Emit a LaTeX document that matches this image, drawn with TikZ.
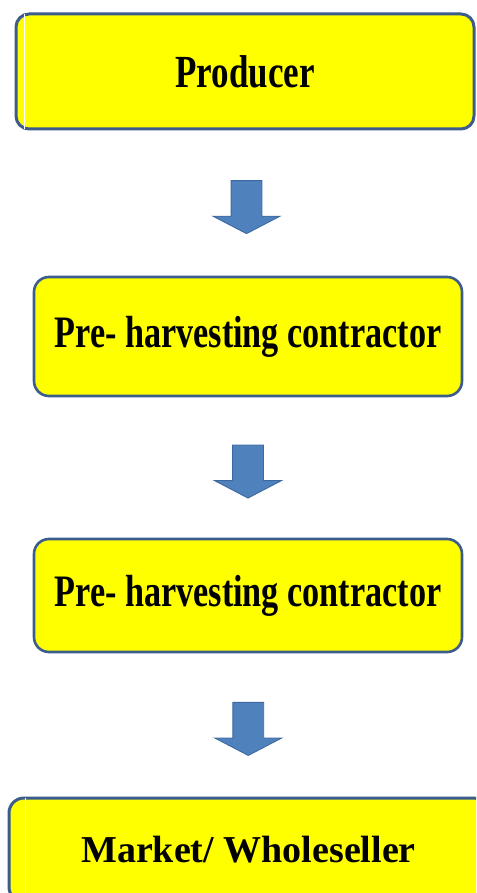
\documentclass[tikz,border=0pt]{standalone}
\usepackage{fontspec}
\setmainfont{Liberation Serif}
\newfontfamily\narrowserif[FakeStretch=0.76]{Liberation Serif}
\usetikzlibrary{shapes.arrows, calc}
\definecolor{BoxYellow}{rgb}{1, 1, 0}
\definecolor{EdgeBlue}{rgb}{0.23, 0.36, 0.55}
\definecolor{ArrowBlue}{rgb}{0.31, 0.51, 0.74}
\definecolor{ArrowEdge}{rgb}{0.24, 0.41, 0.63}

\begin{document}
\begin{tikzpicture}[
    x=1pt, y=-1pt,
    stage/.style={draw=EdgeBlue, fill=BoxYellow, line width=2.6pt, rounded corners=15pt,
                  inner sep=0pt, font=\narrowserif\bfseries\fontsize{45}{50}\selectfont},
    flowarrow/.style={single arrow, shape border rotate=270, draw=ArrowEdge, fill=ArrowBlue,
                      line width=0.9pt, inner sep=15pt, minimum height=53pt,
                      single arrow head extend=18pt, single arrow tip angle=125},
    seam/.style={white, line width=0.8pt},
]
\useasboundingbox (0,0) rectangle (476,893);
\clip (0,0) rectangle (476,893);

% ============ boxes ============
\node[stage, line width=3pt, rounded corners=13pt, minimum width=458pt, minimum height=115pt,
      font=\narrowserif\bfseries\fontsize{46}{50}\selectfont] (prod) at (245,71.5) {Producer};
\node[stage, minimum width=428pt, minimum height=119pt] (pre1) at (248,336.5) {Pre- harvesting contractor};
\node[stage, minimum width=428pt, minimum height=113pt] (pre2) at (248,595.5) {Pre- harvesting contractor};
\node[stage, line width=3pt, minimum width=479pt, minimum height=104pt,
      font=\bfseries\fontsize{38}{42}\selectfont] (market) at (248.5,850) {Market/ Wholeseller};

% thin light seam near the left edge
\draw[seam] ([xshift=10pt,yshift=-1.5pt]prod.north west) -- ([xshift=10pt,yshift=1.5pt]prod.south west);
\draw[seam] ([xshift=18pt,yshift=-1.5pt]market.north west) -- ([xshift=18pt]market.south west);

% ============ arrows ============
\path (prod.south) -- node[flowarrow] (a1) {} (pre1.north);
\path (pre1.south) -- node[flowarrow] (a2) {} (pre2.north);
\path (pre2.south) -- node[flowarrow] (a3) {} (market.north);

\end{tikzpicture}
\end{document}
